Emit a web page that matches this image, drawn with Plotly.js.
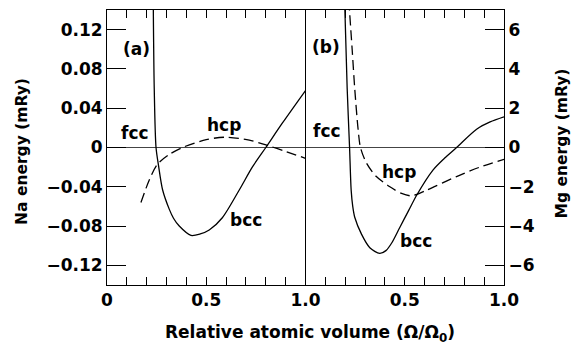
<!DOCTYPE html>
<html>
<head>
<meta charset="utf-8">
<script src="https://cdn.plot.ly/plotly-3.0.1.min.js"></script>
<style>html,body{margin:0;padding:0;background:#fff;}#chart{width:571px;height:356px;}</style>
</head>
<body>
<div id="chart"></div>
<script>
// ---- Data ----
// Panel (a): Na, energies relative to fcc (mRy)
const fccX = [0, 1];
const fccY = [0, 0];

const naBccX = [0.233, 0.238, 0.247, 0.260, 0.280, 0.314, 0.335, 0.364, 0.423, 0.470, 0.515, 0.581, 0.667, 0.732, 0.800, 0.884, 1.000];
const naBccY = [0.150, 0.060, 0.000, -0.019, -0.043, -0.063, -0.072, -0.080, -0.0895, -0.088, -0.084, -0.0715, -0.043, -0.020, 0.000, 0.025, 0.058];

const naHcpX = [0.171, 0.213, 0.254, 0.314, 0.380, 0.500, 0.600, 0.717, 0.818, 0.900, 1.000];
const naHcpY = [-0.056, -0.033, -0.017, -0.007, 0.000, 0.008, 0.0105, 0.0075, 0.0015, -0.004, -0.011];

// Panel (b): Mg, energies relative to fcc (mRy)
const mgBccX = [0.197, 0.210, 0.222, 0.230, 0.238, 0.248, 0.282, 0.324, 0.374, 0.405, 0.435, 0.475, 0.520, 0.560, 0.643, 0.700, 0.761, 0.862, 0.930, 1.000];
const mgBccY = [7.5, 3.0, 0.0, -2.17, -3.0, -3.55, -4.41, -5.10, -5.39, -5.25, -4.85, -4.07, -3.20, -2.43, -1.14, -0.55, 0.00, 0.93, 1.30, 1.56];

const mgHcpX = [0.218, 0.235, 0.248, 0.265, 0.277, 0.307, 0.357, 0.425, 0.484, 0.534, 0.610, 0.761, 0.878, 1.000];
const mgHcpY = [7.5, 5.0, 3.0, 0.93, 0.00, -0.79, -1.48, -2.00, -2.34, -2.46, -2.17, -1.48, -1.00, -0.60];

// Tick labels
const xTickVals1 = [0, 0.5, 1.0];
const xTickText1 = ['0', '0.5', '1.0'];
const xTickVals2 = [0.5, 1.0];
const xTickText2 = ['0.5', '1.0'];

// ---- Styling ----
const FONT = 'DejaVu Sans, Liberation Sans, Arial, sans-serif';
const tickFont = {family: FONT, size: 17, color: '#000', weight: 'bold'};
const solid = {color: '#000', width: 1.3, shape: 'spline', smoothing: 0.8};
const dashed = {color: '#000', width: 1.3, dash: '10px,5px', shape: 'spline', smoothing: 0.8};
const zero = {color: '#444', width: 1};

const traces = [
  {x: fccX, y: fccY, xaxis: 'x', yaxis: 'y', mode: 'lines', line: zero, name: 'fcc'},
  {x: naBccX, y: naBccY, xaxis: 'x', yaxis: 'y', mode: 'lines', line: solid, name: 'bcc'},
  {x: naHcpX, y: naHcpY, xaxis: 'x', yaxis: 'y', mode: 'lines', line: dashed, name: 'hcp'},
  {x: fccX, y: fccY, xaxis: 'x2', yaxis: 'y2', mode: 'lines', line: zero, name: 'fcc'},
  {x: mgBccX, y: mgBccY, xaxis: 'x2', yaxis: 'y2', mode: 'lines', line: solid, name: 'bcc'},
  {x: mgHcpX, y: mgHcpY, xaxis: 'x2', yaxis: 'y2', mode: 'lines', line: dashed, name: 'hcp'}
];

const minorX = {dtick: 0.1, tick0: 0, ticks: 'inside', ticklen: 8, tickwidth: 1, tickcolor: '#000'};
const xCommon = {
  range: [0, 1], tickmode: 'array', ticks: 'inside', ticklen: 8, tickwidth: 1, tickcolor: '#000',
  minor: minorX,
  showline: true, linecolor: '#000', linewidth: 1, mirror: 'ticks',
  showgrid: false, zeroline: false, tickfont: tickFont
};
const yCommon = {
  ticks: 'inside', ticklen: 19, tickwidth: 1, tickcolor: '#000',
  showline: true, linecolor: '#000', linewidth: 1,
  showgrid: false, zeroline: false, tickfont: tickFont
};

const labelFont = {family: FONT, size: 17, color: '#000', weight: 'bold'};
function lab(text, x, y, xref, yref) {
  return {text: text, x: x, y: y, xref: xref, yref: yref, showarrow: false, font: labelFont, xanchor: 'center', yanchor: 'middle'};
}

const layout = {
  width: 571, height: 356,
  margin: {l: 107, r: 67, t: 10, b: 71},
  paper_bgcolor: '#fff', plot_bgcolor: '#fff',
  showlegend: false,
  xaxis: Object.assign({}, xCommon, {domain: [0, 0.5], anchor: 'y', tickvals: xTickVals1, ticktext: xTickText1}),
  xaxis2: Object.assign({}, xCommon, {domain: [0.5, 1], anchor: 'y2', tickvals: xTickVals2, ticktext: xTickText2}),
  yaxis: Object.assign({}, yCommon, {anchor: 'x', range: [-0.14, 0.14], tickmode: 'linear', tick0: 0, dtick: 0.04, mirror: false}),
  yaxis2: Object.assign({}, yCommon, {anchor: 'x2', side: 'right', range: [-7, 7], tickmode: 'linear', tick0: 0, dtick: 2, mirror: true}),
  annotations: [
    lab('(a)', 0.148, 0.100, 'x', 'y'),
    lab('fcc', 0.143, 0.0143, 'x', 'y'),
    lab('hcp', 0.59, 0.0225, 'x', 'y'),
    lab('bcc', 0.70, -0.0735, 'x', 'y'),
    lab('(b)', 0.102, 5.12, 'x2', 'y2'),
    lab('fcc', 0.107, 0.83, 'x2', 'y2'),
    lab('hcp', 0.469, -1.24, 'x2', 'y2'),
    lab('bcc', 0.555, -4.76, 'x2', 'y2'),
    {text: 'Relative atomic volume (Ω/Ω<sub>0</sub>)', xref: 'paper', yref: 'paper', x: 0.511, y: -0.178,
     showarrow: false, xanchor: 'center', yanchor: 'middle', font: {family: FONT, size: 17, color: '#000', weight: 'bold'}},
    {text: 'Na energy (mRy)', xref: 'paper', yref: 'paper', x: -0.214, y: 0.484, textangle: -90,
     showarrow: false, xanchor: 'center', yanchor: 'middle', font: {family: FONT, size: 15.5, color: '#000', weight: 'bold'}},
    {text: 'Mg energy (mRy)', xref: 'paper', yref: 'paper', x: 1.145, y: 0.513, textangle: -90,
     showarrow: false, xanchor: 'center', yanchor: 'middle', font: {family: FONT, size: 15.5, color: '#000', weight: 'bold'}}
  ]
};

Plotly.newPlot('chart', traces, layout, {staticPlot: true, displayModeBar: false});
</script>
</body>
</html>
